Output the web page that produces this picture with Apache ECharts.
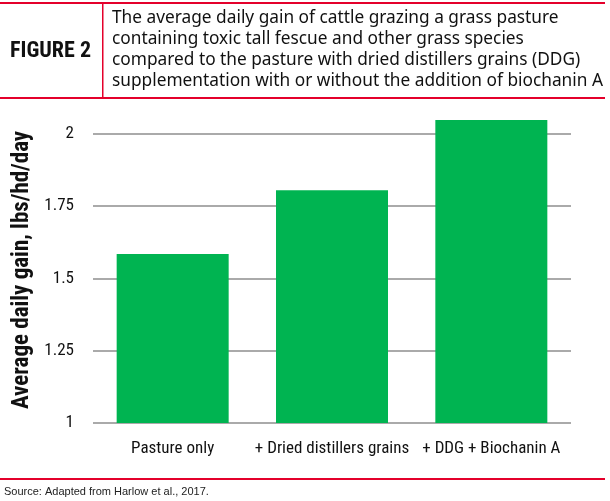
<!DOCTYPE html>
<html><head><meta charset="utf-8">
<script src="https://cdn.jsdelivr.net/npm/echarts@6/dist/echarts.min.js"></script>
<style>html,body{margin:0;padding:0;background:#fff}#c{width:610px;height:501px}</style>
</head><body><div id="c"></div>
<script>
const categories = ['Pasture only', '+ Dried distillers grains', '+ DDG + Biochanin A'];
const values = [1.585, 1.805, 2.048];
const yMin = 1, yMax = 2.1, yStep = 0.25;
const titleLines = [
  'The average daily gain of cattle grazing a grass pasture',
  'containing toxic tall fescue and other grass species',
  'compared to the pasture with dried distillers grains (DDG)',
  'supplementation with or without the addition of biochanin A'
];
const figureLabel = 'FIGURE 2';
const yName = 'Average daily gain, lbs/hd/day';
const source = 'Source: Adapted from Harlow et al., 2017.';

const RED = '#e4002b';
const chart = echarts.init(document.getElementById('c'), null, {renderer: 'canvas'});
const narrow = "'Liberation Sans Narrow', 'Roboto Condensed', Roboto, sans-serif";

const graphics = [
  {type: 'rect', shape: {x: 0, y: 2, width: 605, height: 2}, style: {fill: RED}},
  {type: 'rect', shape: {x: 0, y: 97, width: 605, height: 2}, style: {fill: RED}},
  {type: 'rect', shape: {x: 102, y: 4, width: 1.5, height: 93}, style: {fill: RED}},
  {type: 'rect', shape: {x: 0, y: 478, width: 605, height: 2}, style: {fill: RED}},
  {type: 'text', left: 10, top: 40, style: {text: figureLabel, font: "bold 22px " + narrow, fill: '#111'}},
  {type: 'text', left: 4, top: 486, style: {text: source, font: "11px 'Liberation Sans', Arial, sans-serif", fill: '#222'}},
  {type: 'text', x: 22, y: 270, rotation: Math.PI / 2,
    style: {text: yName, font: "bold 23px " + narrow, fill: '#111', align: 'center', verticalAlign: 'middle'}}
];
titleLines.forEach((t, i) => {
  graphics.push({type: 'text', left: 112, top: 10 + i * 21, style: {text: t, font: "17.3px 'Noto Sans', sans-serif", fill: '#111'}});
});

chart.setOption({
  animation: false,
  grid: {left: 93, right: 39, top: 105, bottom: 78},
  xAxis: {
    type: 'category', data: categories,
    axisLine: {show: false}, axisTick: {show: false},
    axisLabel: {color: '#111', fontSize: 17, fontFamily: narrow, margin: 17, interval: 0, hideOverlap: false}
  },
  yAxis: {
    type: 'value', min: yMin, max: yMax, interval: yStep,
    axisLine: {show: false}, axisTick: {show: false},
    axisLabel: {color: '#111', fontSize: 17, fontFamily: narrow, margin: 19,
      showMaxLabel: false, formatter: v => String(v)},
    splitLine: {showMaxLine: false, lineStyle: {color: '#aaaaaa', width: 2}}
  },
  series: [{
    type: 'bar', data: values, barWidth: 112,
    itemStyle: {color: '#00b451'}
  }],
  graphic: graphics
});
</script></body></html>
